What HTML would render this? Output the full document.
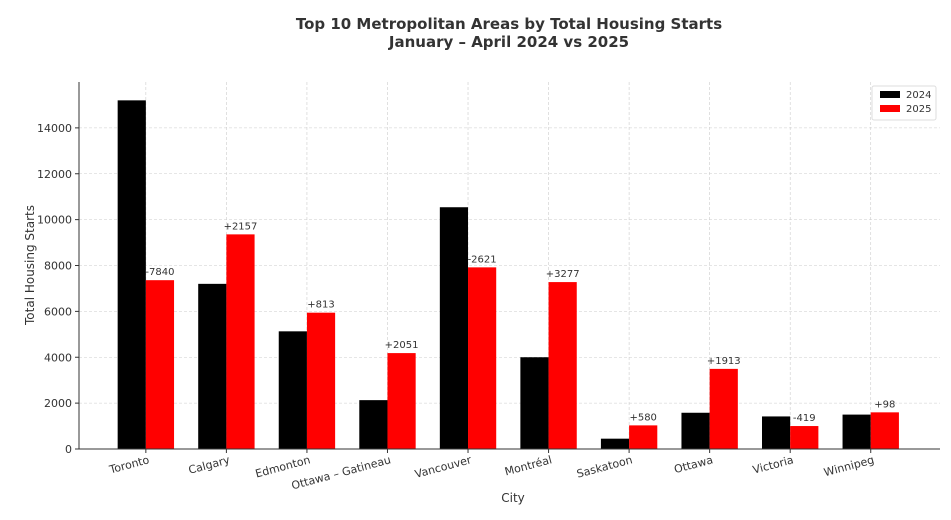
<!DOCTYPE html>
<html><head><meta charset="utf-8"><style>
body{margin:0;background:#fff;font-family:"Liberation Sans","DejaVu Sans",sans-serif}
svg text{font-family:"DejaVu Sans","Liberation Sans",sans-serif}
</style></head><body>
<svg id="chart" width="951" height="515">
<text x="509" y="29" text-anchor="middle" font-size="15" font-weight="bold" fill="#333">Top 10 Metropolitan Areas by Total Housing Starts</text>
<text x="509" y="47" text-anchor="middle" font-size="15" font-weight="bold" fill="#333">January – April 2024 vs 2025</text>
<g id="grid"></g><g id="bars"></g><g id="axes"></g>
<text x="513" y="502" text-anchor="middle" font-size="12" fill="#333">City</text>
<text transform="translate(34,265) rotate(-90)" text-anchor="middle" font-size="12" fill="#333">Total Housing Starts</text>
<g>
<rect x="872" y="86" width="64" height="34" fill="#fff" stroke="#ddd" rx="2"/>
<rect x="880" y="91" width="20" height="7" fill="#000"/>
<text x="906" y="98" font-size="10" fill="#333">2024</text>
<rect x="880" y="105" width="20" height="7" fill="#f00"/>
<text x="906" y="112" font-size="10" fill="#333">2025</text>
</g>
</svg>
<script>
const cities=["Toronto","Calgary","Edmonton","Ottawa – Gatineau","Vancouver","Montréal","Saskatoon","Ottawa","Victoria","Winnipeg"];
const starts2024=[15200,7200,5130,2130,10540,4000,450,1580,1420,1500];
const starts2025=[7360,9357,5943,4181,7919,7277,1030,3493,1001,1598];
const yTicks=[0,2000,4000,6000,8000,10000,12000,14000];
const NS="http://www.w3.org/2000/svg";
const L=79,R=940,T=82,B=449,xmin=-0.83,xmax=9.86,ymax=16000;
const xs=v=>L+(v-xmin)/(xmax-xmin)*(R-L);
const ys=v=>B-v/ymax*(B-T);
function mk(tag,attrs,parent){const e=document.createElementNS(NS,tag);for(const k in attrs)e.setAttribute(k,attrs[k]);parent.appendChild(e);return e;}
const grid=document.getElementById('grid'),bars=document.getElementById('bars'),axes=document.getElementById('axes');
const bw=(xs(0.35)-xs(0));
yTicks.forEach(t=>{
 const y=ys(t);
 const g=mk('line',{x1:L,x2:R,y1:y,y2:y,stroke:'#ccc','stroke-dasharray':'3,2','stroke-width':0.6},grid);
 
 
 mk('line',{x1:L-4,x2:L,y1:y,y2:y,stroke:'#333'},axes);
 const tx=mk('text',{x:L-7,y:y+4,'text-anchor':'end','font-size':11,fill:'#333'},axes);
 tx.textContent=t;
 
 
});
cities.forEach((c,i)=>{
 const cx=xs(i);
 const g=mk('line',{x1:cx,x2:cx,y1:T,y2:B,stroke:'#ccc','stroke-dasharray':'3,2','stroke-width':0.6},grid);
 
 
 const a=mk('rect',{x:cx-bw,y:ys(starts2024[i]),width:bw,height:B-ys(starts2024[i]),fill:'#000'},bars);
 
 
 const b=mk('rect',{x:cx,y:ys(starts2025[i]),width:bw,height:B-ys(starts2025[i]),fill:'#f00'},bars);
 
 
 const d=starts2025[i]-starts2024[i];
 const lb=mk('text',{x:cx+bw/2,y:ys(starts2025[i])-5,'text-anchor':'middle','font-size':10,fill:'#333'},bars);
 lb.textContent=(d>=0?'+':'')+d;
 
 
 mk('line',{x1:cx,x2:cx,y1:B,y2:B+4,stroke:'#333'},axes);
 const tx=mk('text',{transform:`translate(${cx+4},${B+14}) rotate(-15)`,'text-anchor':'end','font-size':11,fill:'#333'},axes);
 tx.textContent=c;
 
 
});
mk('line',{x1:L,x2:L,y1:T,y2:B,stroke:'#333'},axes);
mk('line',{x1:L,x2:R,y1:B,y2:B,stroke:'#333'},axes);
</script>
</body></html>
